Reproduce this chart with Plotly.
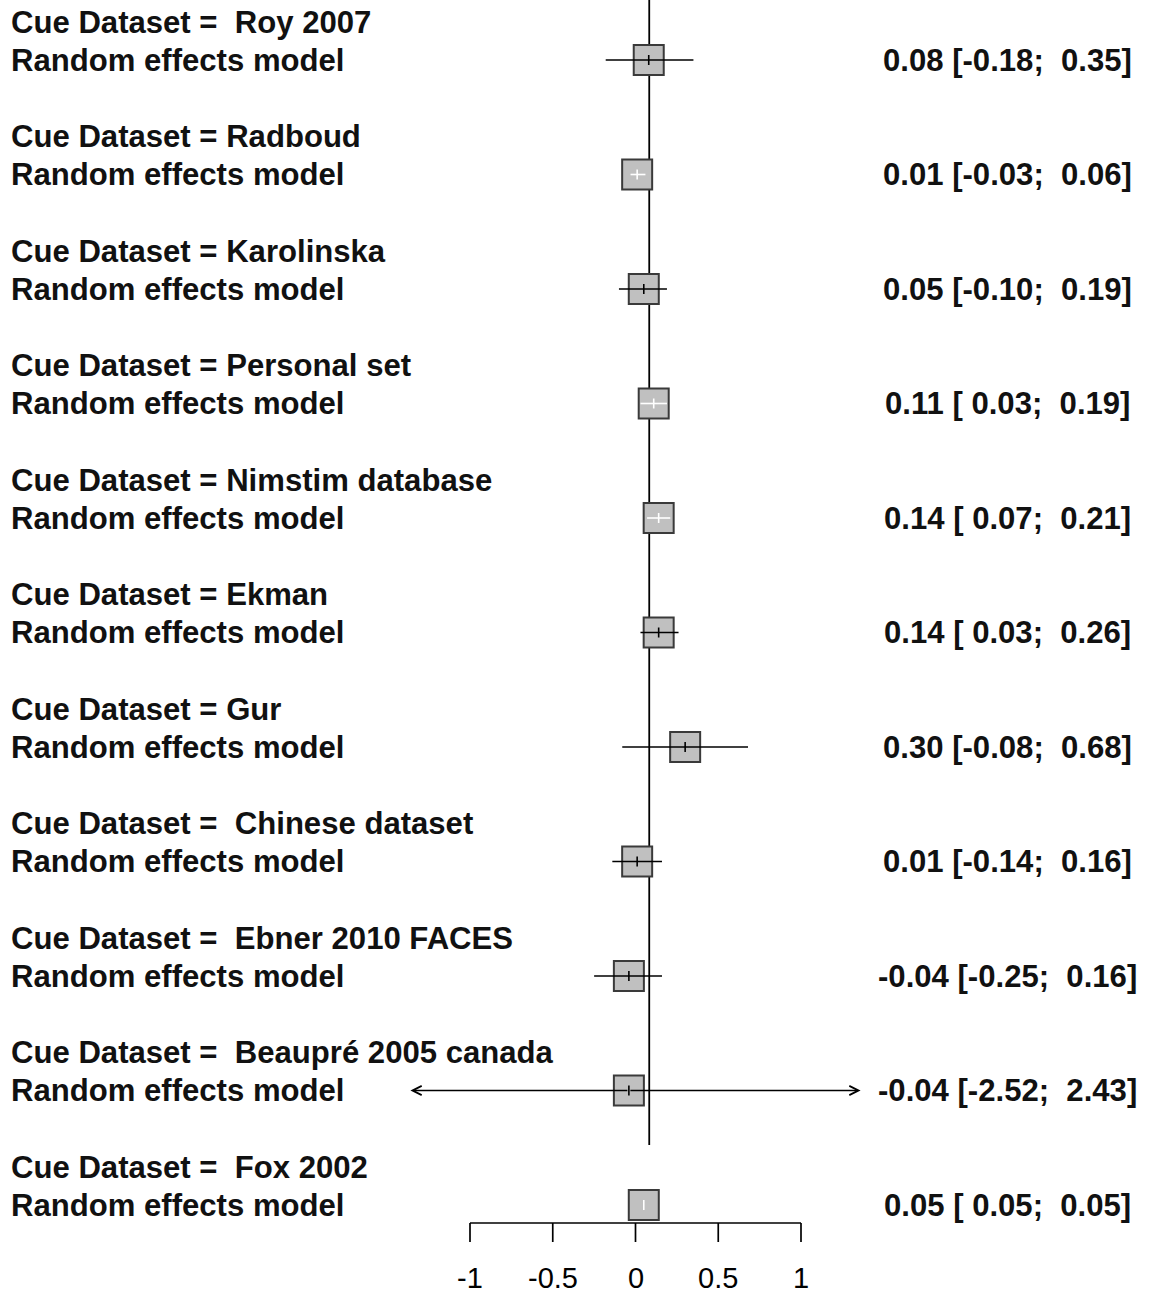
import plotly.graph_objects as go

# ---------------- data ----------------
datasets = [" Roy 2007", "Radboud", "Karolinska", "Personal set", "Nimstim database",
            "Ekman", "Gur", " Chinese dataset", " Ebner 2010 FACES",
            " Beaupré 2005 canada", " Fox 2002"]
estimates = [0.08, 0.01, 0.05, 0.11, 0.14, 0.14, 0.30, 0.01, -0.04, -0.04, 0.05]
ci_lower = [-0.18, -0.03, -0.10, 0.03, 0.07, 0.03, -0.08, -0.14, -0.25, -2.52, 0.05]
ci_upper = [0.35, 0.06, 0.19, 0.19, 0.21, 0.26, 0.68, 0.16, 0.16, 2.43, 0.05]
tick_values = [-1, -0.5, 0, 0.5, 1]
tick_labels = ["-1", "-0.5", "0", "0.5", "1"]
ref_value = 0.083
plot_limit = 1.36

# ---------------- layout constants ----------------
W, H = 1149, 1295
X0_PX, PX_PER_UNIT = 635.5, 165.5
ROW0_PX, ROW_STEP = 60.0, 114.5
SQ_SIZE = 30
HALF_SQ = (SQ_SIZE / 2 + 1) / PX_PER_UNIT
FONT = "Liberation Sans, Arial, sans-serif"
FS = 31.1

def py(px):
    return (px - ROW0_PX) / ROW_STEP

rows = list(range(len(datasets)))
x_range = [-X0_PX / PX_PER_UNIT, (W - X0_PX) / PX_PER_UNIT]
y_range = [py(H), py(0)]
tick_h = 5 / ROW_STEP

fig = go.Figure()

# reference vertical line (behind squares)
fig.add_trace(go.Scatter(x=[ref_value, ref_value], y=[py(0) - 0.1, py(1145)],
                         mode="lines", line=dict(color="black", width=1.8),
                         hoverinfo="skip", showlegend=False))

# squares
fig.add_trace(go.Scatter(x=estimates, y=rows, mode="markers",
                         marker=dict(symbol="square", size=SQ_SIZE, color="#c0c0c0",
                                     line=dict(color="#3a3a3a", width=2)),
                         hoverinfo="skip", showlegend=False))

# CI lines and estimate ticks
seg = {"black": ([], []), "white": ([], [])}
arrows = []
for i, (e, lo, hi) in enumerate(zip(estimates, ci_lower, ci_upper)):
    inside = (lo >= e - HALF_SQ) and (hi <= e + HALF_SQ)
    col = "white" if inside else "black"
    xs, ys = seg[col]
    if lo < -plot_limit or hi > plot_limit:
        arrows.append((i, e, max(lo, -plot_limit), min(hi, plot_limit)))
    else:
        xs += [lo, hi, None]
        ys += [i, i, None]
    xs += [e, e, None]
    ys += [i - tick_h, i + tick_h, None]

for col, (xs, ys) in seg.items():
    fig.add_trace(go.Scatter(x=xs, y=ys, mode="lines",
                             line=dict(color=col, width=1.6),
                             hoverinfo="skip", showlegend=False))

annotations = []
for i, e, lo, hi in arrows:
    for end in (lo, hi):
        annotations.append(dict(x=end, y=i, ax=e, ay=i, xref="x", yref="y",
                                axref="x", ayref="y", text="", showarrow=True,
                                arrowhead=5, arrowsize=1.3, arrowwidth=1.4,
                                arrowcolor="black", standoff=0, startstandoff=0))

# bottom axis
axis_y = py(1223)
axis_tick_end = py(1242)
ax_x = [tick_values[0], tick_values[-1], None]
ax_y = [axis_y, axis_y, None]
for t in tick_values:
    ax_x += [t, t, None]
    ax_y += [axis_y, axis_tick_end, None]
fig.add_trace(go.Scatter(x=ax_x, y=ax_y, mode="lines",
                         line=dict(color="black", width=1.7),
                         hoverinfo="skip", showlegend=False))
for t, lab in zip(tick_values, tick_labels):
    annotations.append(dict(x=t, y=py(1295), xref="x", yref="y", text=lab,
                            showarrow=False, xanchor="center", yanchor="bottom",
                            borderpad=0,
                            font=dict(family=FONT, size=29, color="black")))

# text columns
label_dy = 38 / ROW_STEP
left_x = 9 / W
right_x = 1007 / W
for i, (name, e, lo, hi) in enumerate(zip(datasets, estimates, ci_lower, ci_upper)):
    head = ("Cue Dataset = " + name).replace(" ", "\u00a0")
    annotations.append(dict(x=left_x, y=i - label_dy, xref="paper", yref="y",
                            text="<b>" + head + "</b>", showarrow=False,
                            xanchor="left", yanchor="middle",
                            font=dict(family=FONT, size=FS, color="#111111")))
    annotations.append(dict(x=left_x, y=i, xref="paper", yref="y",
                            text="<b>Random\u00a0effects\u00a0model</b>", showarrow=False,
                            xanchor="left", yanchor="middle",
                            font=dict(family=FONT, size=FS, color="#111111")))
    txt = f"{e:.2f} [{lo:5.2f}; {hi:5.2f}]".replace(" ", "\u00a0")
    annotations.append(dict(x=right_x, y=i, xref="paper", yref="y",
                            text="<b>" + txt + "</b>", showarrow=False,
                            xanchor="center", yanchor="middle",
                            font=dict(family=FONT, size=FS, color="#111111")))

fig.update_layout(
    width=W, height=H, autosize=False,
    margin=dict(l=0, r=0, t=0, b=0, pad=0),
    paper_bgcolor="white", plot_bgcolor="white",
    xaxis=dict(range=x_range, visible=False, fixedrange=True),
    yaxis=dict(range=y_range, visible=False, fixedrange=True),
    annotations=annotations,
    showlegend=False,
)

fig.write_html("out.html")
